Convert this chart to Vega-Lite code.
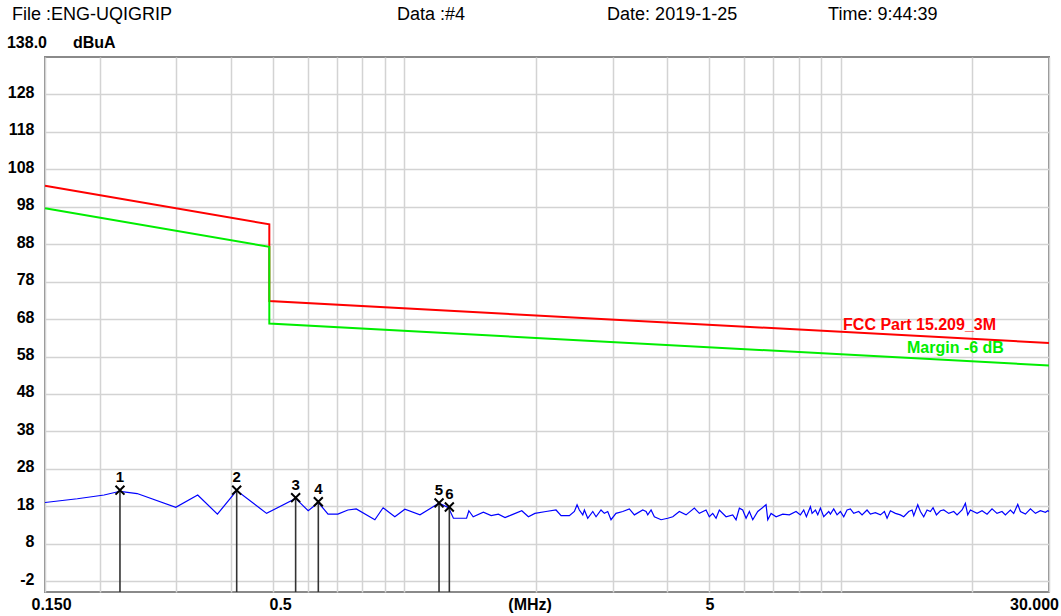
{
  "$schema": "https://vega.github.io/schema/vega-lite/v6.json",
  "width": 1004,
  "height": 535,
  "autosize": {"type": "none"},
  "padding": {"left": 45, "top": 57, "right": 12, "bottom": 24},
  "background": "#ffffff",
  "config": {
    "view": {"stroke": "#8a8a8a", "strokeWidth": 2},
    "text": {"font": "Liberation Sans"}
  },
  "datasets": {
    "limits": [
      {"series": "FCC Part 15.209_3M", "i": 1, "f": 0.15, "v": 103.6},
      {"series": "FCC Part 15.209_3M", "i": 2, "f": 0.49, "v": 93.3},
      {"series": "FCC Part 15.209_3M", "i": 3, "f": 0.49, "v": 72.8},
      {"series": "FCC Part 15.209_3M", "i": 4, "f": 30, "v": 61.6},
      {"series": "Margin -6 dB", "i": 1, "f": 0.15, "v": 97.6},
      {"series": "Margin -6 dB", "i": 2, "f": 0.49, "v": 87.3},
      {"series": "Margin -6 dB", "i": 3, "f": 0.49, "v": 66.8},
      {"series": "Margin -6 dB", "i": 4, "f": 30, "v": 55.6}
    ],
    "trace": [
      {"f": 0.15, "v": 19.0}, {"f": 0.1779, "v": 20.0}, {"f": 0.2049, "v": 21.0}, {"f": 0.2228, "v": 22.0},
      {"f": 0.2439, "v": 21.4}, {"f": 0.2991, "v": 17.7}, {"f": 0.3358, "v": 21.0}, {"f": 0.3726, "v": 15.9},
      {"f": 0.4125, "v": 22.2}, {"f": 0.483, "v": 16.1}, {"f": 0.563, "v": 20.1}, {"f": 0.6016, "v": 16.8},
      {"f": 0.6346, "v": 19.0}, {"f": 0.668, "v": 15.9}, {"f": 0.7037, "v": 15.9}, {"f": 0.7418, "v": 17.0},
      {"f": 0.7753, "v": 17.3}, {"f": 0.8552, "v": 14.4}, {"f": 0.8934, "v": 17.6}, {"f": 0.9503, "v": 15.2},
      {"f": 1.002, "v": 17.2}, {"f": 1.0852, "v": 15.7}, {"f": 1.1754, "v": 18.2}, {"f": 1.2, "v": 18.8},
      {"f": 1.262, "v": 17.6}, {"f": 1.2946, "v": 14.8}, {"f": 1.3877, "v": 14.8}, {"f": 1.4045, "v": 16.8},
      {"f": 1.437, "v": 15.2}, {"f": 1.516, "v": 16.4}, {"f": 1.58, "v": 15.5}, {"f": 1.641, "v": 15.9},
      {"f": 1.7, "v": 15.0}, {"f": 1.76, "v": 15.7}, {"f": 1.857, "v": 16.8}, {"f": 1.923, "v": 15.2},
      {"f": 1.99, "v": 16.1}, {"f": 2.11, "v": 16.6}, {"f": 2.225, "v": 17.0}, {"f": 2.285, "v": 15.5},
      {"f": 2.387, "v": 15.5}, {"f": 2.451, "v": 16.6}, {"f": 2.486, "v": 18.4}, {"f": 2.516, "v": 17.0},
      {"f": 2.562, "v": 15.7}, {"f": 2.584, "v": 17.0}, {"f": 2.63, "v": 14.8}, {"f": 2.701, "v": 16.6},
      {"f": 2.748, "v": 15.2}, {"f": 2.821, "v": 17.0}, {"f": 2.871, "v": 16.1}, {"f": 2.923, "v": 16.6},
      {"f": 2.974, "v": 14.4}, {"f": 3.053, "v": 16.1}, {"f": 3.164, "v": 16.6}, {"f": 3.276, "v": 17.3},
      {"f": 3.364, "v": 15.7}, {"f": 3.516, "v": 17.0}, {"f": 3.578, "v": 16.6}, {"f": 3.61, "v": 15.7},
      {"f": 3.674, "v": 17.0}, {"f": 3.738, "v": 15.2}, {"f": 3.873, "v": 14.4}, {"f": 4.012, "v": 14.8},
      {"f": 4.12, "v": 15.2}, {"f": 4.265, "v": 16.6}, {"f": 4.419, "v": 15.7}, {"f": 4.616, "v": 17.5},
      {"f": 4.74, "v": 16.1}, {"f": 4.91, "v": 17.0}, {"f": 4.996, "v": 15.2}, {"f": 5.087, "v": 16.1},
      {"f": 5.177, "v": 14.8}, {"f": 5.267, "v": 17.0}, {"f": 5.458, "v": 15.2}, {"f": 5.653, "v": 15.7},
      {"f": 5.753, "v": 14.4}, {"f": 5.855, "v": 17.5}, {"f": 5.959, "v": 17.0}, {"f": 6.065, "v": 14.8},
      {"f": 6.172, "v": 16.6}, {"f": 6.283, "v": 14.4}, {"f": 6.451, "v": 16.6}, {"f": 6.74, "v": 18.4},
      {"f": 6.801, "v": 14.4}, {"f": 6.921, "v": 16.1}, {"f": 7.107, "v": 15.2}, {"f": 7.362, "v": 15.9},
      {"f": 7.621, "v": 15.7}, {"f": 7.896, "v": 16.6}, {"f": 8.078, "v": 15.7}, {"f": 8.222, "v": 17.0},
      {"f": 8.339, "v": 15.2}, {"f": 8.518, "v": 17.9}, {"f": 8.593, "v": 16.1}, {"f": 8.745, "v": 17.0},
      {"f": 8.854, "v": 15.7}, {"f": 8.979, "v": 17.5}, {"f": 9.138, "v": 15.2}, {"f": 9.383, "v": 16.6},
      {"f": 9.465, "v": 15.9}, {"f": 9.632, "v": 17.3}, {"f": 9.804, "v": 15.7}, {"f": 9.977, "v": 16.6},
      {"f": 10.155, "v": 15.2}, {"f": 10.335, "v": 17.0}, {"f": 10.517, "v": 17.3}, {"f": 10.706, "v": 16.1},
      {"f": 10.99, "v": 16.6}, {"f": 11.186, "v": 15.7}, {"f": 11.484, "v": 17.0}, {"f": 11.69, "v": 15.9},
      {"f": 12.001, "v": 16.3}, {"f": 12.322, "v": 15.7}, {"f": 12.586, "v": 16.6}, {"f": 12.764, "v": 14.8},
      {"f": 12.99, "v": 16.8}, {"f": 13.338, "v": 16.1}, {"f": 13.694, "v": 15.7}, {"f": 13.939, "v": 15.2},
      {"f": 14.31, "v": 16.6}, {"f": 14.566, "v": 17.0}, {"f": 14.694, "v": 15.5}, {"f": 15.008, "v": 18.4},
      {"f": 15.22, "v": 16.6}, {"f": 15.488, "v": 15.2}, {"f": 15.764, "v": 17.0}, {"f": 16.044, "v": 16.6},
      {"f": 16.271, "v": 17.6}, {"f": 16.562, "v": 15.7}, {"f": 16.914, "v": 16.8}, {"f": 17.216, "v": 17.0},
      {"f": 17.674, "v": 16.1}, {"f": 18.146, "v": 16.6}, {"f": 18.467, "v": 15.7}, {"f": 18.961, "v": 17.0},
      {"f": 19.297, "v": 18.8}, {"f": 19.538, "v": 15.7}, {"f": 19.815, "v": 17.0}, {"f": 20.525, "v": 16.1},
      {"f": 21.07, "v": 16.8}, {"f": 21.634, "v": 15.9}, {"f": 22.21, "v": 17.3}, {"f": 22.8, "v": 16.1},
      {"f": 23.41, "v": 16.6}, {"f": 23.83, "v": 15.7}, {"f": 24.47, "v": 17.0}, {"f": 24.9, "v": 16.1},
      {"f": 25.44, "v": 18.5}, {"f": 25.8, "v": 16.6}, {"f": 26.49, "v": 15.9}, {"f": 27.2, "v": 17.3},
      {"f": 27.93, "v": 16.1}, {"f": 28.67, "v": 16.8}, {"f": 29.44, "v": 16.4}, {"f": 29.81, "v": 16.8},
      {"f": 30, "v": 16.6}
    ],
    "markers": [
      {"n": "1", "f": 0.2228, "v": 22.3},
      {"n": "2", "f": 0.4125, "v": 22.3},
      {"n": "3", "f": 0.563, "v": 20.3},
      {"n": "4", "f": 0.6346, "v": 19.2},
      {"n": "5", "f": 1.2, "v": 18.9},
      {"n": "6", "f": 1.267, "v": 17.8}
    ],
    "header": [
      {"t": "File :ENG-UQIGRIP", "f": 0.126, "v": 147.9},
      {"t": "Data :#4", "f": 0.961, "v": 147.9},
      {"t": "Date: 2019-1-25", "f": 2.913, "v": 147.9},
      {"t": "Time: 9:44:39", "f": 9.35, "v": 147.9}
    ],
    "units": [
      {"t": "138.0", "f": 0.1227, "v": 140.4},
      {"t": "dBuA", "f": 0.1739, "v": 140.4}
    ],
    "limitLabels": [
      {"series": "FCC Part 15.209_3M", "f": 10.12, "v": 65.0},
      {"series": "Margin -6 dB", "f": 14.18, "v": 58.9}
    ]
  },
  "encoding": {
    "x": {
      "field": "f",
      "type": "quantitative",
      "scale": {"type": "log", "domain": [0.15, 30], "nice": false, "zero": false},
      "axis": {
        "values": [0.15, 0.2, 0.3, 0.4, 0.5, 0.6, 0.7, 0.8, 0.9, 1, 1.935, 2, 3, 4, 5, 6, 7, 8, 9, 10, 20, 30],
        "labelExpr": "datum.value == 0.15 ? '0.150' : datum.value == 0.5 ? '0.5' : datum.value == 1.935 ? '(MHz)' : datum.value == 5 ? '5' : datum.value == 30 ? '30.000' : ''",
        "title": null,
        "ticks": false,
        "domain": false,
        "grid": true,
        "gridColor": "#d3d3d3",
        "gridWidth": 1.5,
        "gridOpacity": {"condition": {"test": "datum.value == 1.935", "value": 0}, "value": 1},
        "labelFont": "Liberation Sans",
        "labelFontSize": 16,
        "labelFontWeight": "bold",
        "labelColor": "#000000",
        "labelPadding": 4,
        "labelBaseline": "top",
        "labelOverlap": false,
        "labelBound": false,
        "labelFlush": false,
        "labelOffset": {
          "condition": [
            {"test": "datum.value <= 0.15", "value": 6},
            {"test": "datum.value >= 30", "value": -15},
            {"test": "datum.value == 0.5", "value": 7}
          ],
          "value": 0
        }
      }
    },
    "y": {
      "field": "v",
      "type": "quantitative",
      "scale": {"domain": [-4.9, 138], "nice": false, "zero": false},
      "axis": {
        "values": [-2, 8, 18, 28, 38, 48, 58, 68, 78, 88, 98, 108, 118, 128],
        "labelExpr": "datum.value < 0 ? '-' + abs(datum.value) : '' + datum.value",
        "title": null,
        "ticks": false,
        "domain": false,
        "grid": true,
        "gridColor": "#d3d3d3",
        "gridWidth": 1.5,
        "labelFont": "Liberation Sans",
        "labelFontSize": 16,
        "labelFontWeight": "bold",
        "labelColor": "#000000",
        "labelPadding": 11,
        "labelOffset": -2,
        "labelOverlap": false,
        "labelBound": false,
        "labelFlush": false
      }
    }
  },
  "layer": [
    {
      "data": {"name": "trace"},
      "mark": {"type": "line", "color": "#0000ff", "strokeWidth": 1.2, "clip": true},
      "encoding": {}
    },
    {
      "data": {"name": "limits"},
      "mark": {"type": "line", "strokeWidth": 2},
      "encoding": {
        "color": {
          "field": "series",
          "type": "nominal",
          "scale": {"domain": ["FCC Part 15.209_3M", "Margin -6 dB"], "range": ["#ff0000", "#00ee00"]},
          "legend": null
        },
        "order": {"field": "i", "type": "quantitative"}
      }
    },
    {
      "data": {"name": "markers"},
      "mark": {"type": "rule", "color": "#333333", "strokeWidth": 1.6},
      "encoding": {
        "y2": {"datum": -4.9}
      }
    },
    {
      "data": {"name": "markers"},
      "mark": {
        "type": "point",
        "shape": "M-1,-1L1,1M1,-1L-1,1",
        "filled": false,
        "stroke": "#000000",
        "strokeWidth": 2,
        "size": 80,
        "opacity": 1
      },
      "encoding": {}
    },
    {
      "data": {"name": "markers"},
      "mark": {
        "type": "text",
        "font": "Liberation Sans",
        "fontSize": 15,
        "fontWeight": "bold",
        "color": "#000000",
        "baseline": "bottom",
        "dy": -5
      },
      "encoding": {"text": {"field": "n"}}
    },
    {
      "data": {"name": "header"},
      "mark": {
        "type": "text",
        "font": "Liberation Sans",
        "fontSize": 18,
        "color": "#000000",
        "align": "left",
        "baseline": "alphabetic"
      },
      "encoding": {"text": {"field": "t"}}
    },
    {
      "data": {"name": "units"},
      "mark": {
        "type": "text",
        "font": "Liberation Sans",
        "fontSize": 16,
        "fontWeight": "bold",
        "color": "#000000",
        "align": "left",
        "baseline": "alphabetic"
      },
      "encoding": {"text": {"field": "t"}}
    },
    {
      "data": {"name": "limitLabels"},
      "mark": {
        "type": "text",
        "font": "Liberation Sans",
        "fontSize": 16,
        "fontWeight": "bold",
        "align": "left",
        "baseline": "alphabetic"
      },
      "encoding": {
        "text": {"field": "series"},
        "color": {
          "field": "series",
          "type": "nominal",
          "scale": {"domain": ["FCC Part 15.209_3M", "Margin -6 dB"], "range": ["#ff0000", "#00ee00"]},
          "legend": null
        }
      }
    }
  ]
}
